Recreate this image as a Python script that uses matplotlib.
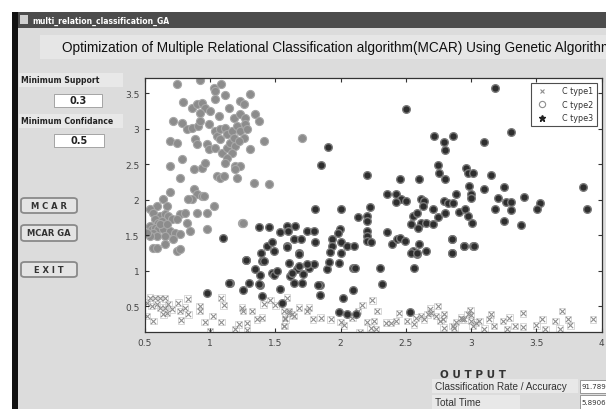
import numpy as np
import matplotlib.pyplot as plt
from matplotlib.patches import Rectangle, FancyBboxPatch
from matplotlib.lines import Line2D

# C type1 (crosses along the bottom)
t1_x = [0.539, 0.577, 0.616, 0.654, 0.513, 0.551, 0.590, 0.616, 0.654, 0.680, 0.705, 0.756,
        0.826, 0.769, 0.808, 0.833, 0.641, 0.667, 0.513, 0.564, 0.777, 0.918, 0.918, 1.018,
        0.957, 1.000, 1.085, 1.103, 1.085, 1.192, 1.218, 1.244, 1.251, 1.282, 1.282, 1.321,
        1.359, 1.398, 1.410, 1.462, 1.500, 1.564, 1.577, 1.603, 1.628, 1.589, 1.564, 1.602,
        1.640, 1.577, 1.569, 1.679, 1.756, 1.743, 1.789, 1.846, 1.840, 1.923, 2.000, 2.025,
        2.089, 2.133, 2.166, 2.243, 2.146, 2.205, 2.256, 2.282, 2.230, 2.269, 2.346, 2.384,
        2.423, 2.448, 2.512, 2.564, 2.576, 2.615, 2.640, 2.666, 2.687, 2.692, 2.730, 2.764,
        2.794, 2.789, 2.858, 2.884, 2.923, 2.948, 2.974, 2.994, 2.999, 3.012, 3.000, 3.038,
        3.064, 3.102, 3.153, 3.141, 3.174, 3.243, 3.294, 3.277, 3.333, 3.397, 3.397, 3.500,
        3.546, 3.569, 3.646, 3.679, 3.697, 3.743, 3.761, 3.935, 2.743, 2.782, 2.871, 2.928]
t1_y = [0.622, 0.620, 0.616, 0.610, 0.552, 0.505, 0.528, 0.481, 0.481, 0.528, 0.458, 0.552,
        0.608, 0.434, 0.481, 0.387, 0.387, 0.411, 0.364, 0.294, 0.303, 0.505, 0.434, 0.364,
        0.279, 0.153, 0.622, 0.514, 0.279, 0.176, 0.247, 0.481, 0.434, 0.261, 0.162, 0.434,
        0.317, 0.341, 0.528, 0.589, 0.514, 0.223, 0.341, 0.434, 0.387, 0.622, 0.434, 0.411,
        0.364, 0.317, 0.223, 0.481, 0.481, 0.434, 0.317, 0.341, 0.660, 0.317, 0.279, 0.233,
        0.341, 0.434, 0.519, 0.585, 0.139, 0.279, 0.293, 0.434, 0.200, 0.176, 0.270, 0.270,
        0.293, 0.402, 0.293, 0.247, 0.341, 0.364, 0.317, 0.387, 0.467, 0.411, 0.364, 0.293,
        0.387, 0.200, 0.223, 0.279, 0.341, 0.317, 0.387, 0.448, 0.293, 0.223, 0.374, 0.270,
        0.294, 0.186, 0.388, 0.317, 0.223, 0.294, 0.341, 0.176, 0.223, 0.402, 0.214, 0.233,
        0.317, 0.176, 0.294, 0.186, 0.434, 0.317, 0.233, 0.317, 0.505, 0.327, 0.200, 0.317]

# C type2 (grey cluster, upper left)
t2_x = [0.744, 0.923, 1.026, 1.039, 1.082, 1.115, 1.308, 1.231, 1.257, 0.795, 0.859, 0.898,
        0.936, 0.962, 0.923, 1.000, 1.039, 1.064, 1.141, 1.180, 1.231, 1.269, 1.346, 1.372,
        0.718, 0.782, 0.821, 0.859, 0.910, 0.923, 0.987, 1.039, 1.051, 1.077, 1.115, 1.128,
        1.167, 1.205, 1.231, 1.269, 1.282, 1.257, 1.308, 1.410, 0.692, 0.744, 0.885, 0.898,
        0.975, 0.987, 1.039, 1.077, 1.090, 1.128, 1.154, 1.180, 1.192, 1.218, 1.167, 1.128,
        1.115, 1.192, 1.231, 0.782, 0.692, 0.872, 0.936, 0.962, 1.051, 1.077, 1.103, 1.205,
        1.192, 1.333, 1.449, 0.769, 0.692, 0.872, 0.898, 0.936, 0.859, 0.833, 0.949, 1.026,
        0.641, 0.667, 0.590, 0.538, 0.564, 0.616, 0.654, 0.680, 0.705, 0.769, 0.808, 0.744,
        0.821, 0.577, 0.603, 0.628, 0.538, 0.551, 0.577, 0.603, 0.564, 0.641, 0.692, 0.731,
        0.590, 0.538, 0.654, 0.769, 0.846, 0.975, 0.564, 0.590, 0.654, 0.744, 0.769, 1.244,
        0.898, 0.975, 0.616, 0.667, 0.718, 0.513, 1.705, 1.250]
t2_y = [3.636, 3.688, 3.580, 3.533, 3.627, 3.472, 3.495, 3.392, 3.345, 3.378, 3.298, 3.345,
        3.369, 3.298, 3.228, 3.251, 3.425, 3.181, 3.298, 3.157, 3.204, 3.157, 3.204, 3.110,
        3.110, 3.087, 3.002, 3.017, 3.040, 3.110, 3.064, 2.970, 2.899, 2.993, 3.017, 2.923,
        2.970, 3.040, 2.970, 3.064, 2.993, 2.876, 2.711, 2.829, 2.829, 2.805, 2.852, 2.782,
        2.782, 2.711, 2.735, 2.852, 2.664, 2.735, 2.805, 2.876, 2.758, 2.829, 2.664, 2.594,
        2.524, 2.477, 2.477, 2.570, 2.477, 2.430, 2.453, 2.524, 2.336, 2.312, 2.336, 2.312,
        2.430, 2.242, 2.228, 2.312, 2.110, 2.148, 2.078, 2.054, 2.007, 2.007, 2.054, 1.913,
        2.007, 1.913, 1.913, 1.866, 1.819, 1.772, 1.796, 1.772, 1.725, 1.796, 1.819, 1.725,
        1.678, 1.725, 1.678, 1.702, 1.631, 1.585, 1.608, 1.585, 1.538, 1.585, 1.561, 1.538,
        1.491, 1.491, 1.491, 1.514, 1.561, 1.585, 1.326, 1.326, 1.373, 1.279, 1.303, 1.678,
        1.819, 1.819, 1.655, 1.655, 1.444, 1.538, 2.870, 1.680]

# C type3 (dark cluster, diagonal band)
t3_x = [2.500, 1.902, 1.846, 2.200, 2.717, 2.794, 2.858, 2.800, 2.743, 2.756, 2.961, 2.974,
        3.012, 2.456, 2.602, 2.800, 2.359, 2.423, 2.461, 2.423, 2.500, 2.615, 2.640, 2.628,
        2.794, 2.820, 2.858, 2.884, 2.999, 2.999, 2.987, 2.705, 2.743, 2.800, 2.910, 2.956,
        2.974, 3.005, 1.802, 2.000, 2.223, 2.135, 2.200, 2.200, 2.551, 2.589, 2.615, 2.653,
        2.705, 2.538, 2.594, 1.589, 1.653, 1.594, 1.538, 1.743, 1.794, 1.994, 1.979, 2.200,
        2.200, 2.200, 2.230, 2.353, 1.640, 1.697, 1.800, 1.935, 2.000, 2.397, 2.430, 2.456,
        2.492, 2.602, 2.853, 2.948, 3.012, 1.589, 1.935, 2.051, 2.102, 1.679, 1.922, 1.999,
        2.551, 2.653, 2.851, 2.584, 1.097, 1.372, 1.454, 1.277, 1.154, 0.979, 1.251, 1.295,
        1.346, 1.397, 1.385, 1.379, 1.397, 1.390, 1.436, 1.474, 1.487, 1.410, 1.474, 1.492,
        1.538, 1.551, 1.615, 1.641, 1.705, 1.713, 1.667, 1.628, 1.756, 1.795, 1.841, 1.892,
        1.987, 2.097, 2.097, 2.020, 1.987, 2.051, 2.115, 1.841, 1.602, 1.590, 1.680, 1.513,
        1.274, 1.146, 1.372, 1.679, 1.743, 1.910, 2.107, 1.828, 2.299, 2.320, 2.564, 2.538,
        2.589, 2.853, 2.533, 3.187, 3.307, 3.102, 3.154, 3.102, 3.251, 3.205, 3.269, 3.307,
        3.405, 3.184, 3.307, 3.251, 3.384, 3.525, 3.505, 3.859, 3.890, 2.854, 2.948, 3.020]
t3_y = [3.275, 2.749, 2.495, 2.350, 2.900, 2.815, 2.900, 2.702, 2.486, 2.383, 2.453, 2.383,
        2.373, 2.289, 2.289, 2.289, 2.077, 2.077, 2.007, 1.970, 1.984, 2.017, 1.984, 1.913,
        1.984, 1.960, 1.950, 2.077, 2.077, 2.030, 2.195, 1.866, 1.763, 1.810, 1.829, 1.866,
        1.772, 1.678, 1.866, 1.866, 1.899, 1.763, 1.772, 1.702, 1.772, 1.810, 1.678, 1.669,
        1.655, 1.655, 1.608, 1.631, 1.631, 1.561, 1.547, 1.561, 1.561, 1.594, 1.528, 1.561,
        1.491, 1.420, 1.406, 1.547, 1.453, 1.444, 1.406, 1.453, 1.406, 1.373, 1.444, 1.458,
        1.420, 1.373, 1.453, 1.350, 1.350, 1.350, 1.350, 1.350, 1.350, 1.246, 1.265, 1.256,
        1.279, 1.279, 1.256, 1.232, 1.458, 1.617, 1.617, 1.148, 0.824, 0.683, 0.730, 0.824,
        1.030, 1.138, 0.936, 0.796, 0.645, 1.256, 1.350, 1.406, 1.279, 1.138, 0.965, 0.936,
        0.749, 0.551, 0.927, 0.833, 0.833, 0.951, 1.030, 0.965, 1.045, 1.091, 0.796, 1.021,
        1.115, 1.045, 0.730, 0.613, 0.425, 0.397, 0.397, 0.659, 1.115, 1.340, 1.242, 1.000,
        1.148, 0.833, 0.810, 1.068, 1.092, 1.129, 1.045, 0.801, 1.045, 0.810, 1.045, 1.256,
        1.256, 1.247, 0.425, 3.580, 2.960, 2.815, 2.345, 2.148, 2.186, 2.031, 1.970, 1.970,
        2.040, 1.866, 1.857, 1.697, 1.645, 1.951, 1.866, 2.181, 1.866, 1.444, 1.350, 1.350]

legend_labels = ['C type1', 'C type2', 'C type3']
x_ticks = [0.5, 1, 1.5, 2, 2.5, 3, 3.5, 4]
y_ticks = [0.5, 1, 1.5, 2, 2.5, 3, 3.5]

W, H = 606, 410
fig = plt.figure(figsize=(W / 100, H / 100), dpi=100)
fig.patch.set_facecolor('white')


def box(x0, y0, x1, y1, fc, ec='none', lw=0):
    # rectangle given in screen pixels (top-left origin)
    r = Rectangle((x0 / W, 1 - y1 / H), (x1 - x0) / W, (y1 - y0) / H,
                  transform=fig.transFigure, facecolor=fc, edgecolor=ec, linewidth=lw,
                  zorder=-5)
    fig.add_artist(r)


def txt(x, y, s, **kw):
    fig.text(x / W, 1 - y / H, s, **kw)


def button(x0, y0, x1, y1, label):
    b = FancyBboxPatch((x0 / W, 1 - y1 / H), (x1 - x0) / W, (y1 - y0) / H,
                       boxstyle='round,pad=0,rounding_size=0.006',
                       transform=fig.transFigure, facecolor='#e4e4e4',
                       edgecolor='#8a8a8a', linewidth=1.3, zorder=-5)
    fig.add_artist(b)
    txt((x0 + x1) / 2, (y0 + y1) / 2, label, ha='center', va='center',
        fontsize=6, fontweight='bold', color='#333333')


# window chrome
box(12, 13, W, H, '#dcdcdc')
box(12, 13, W, 29, '#4c4c4c')
box(12, 13, 18, H, '#111111')
box(20, 16, 28, 25, '#cfcfcf')
txt(32, 21, 'multi_relation_classification_GA', fontsize=5.5, fontweight='bold',
    color='white', va='center')
box(40, 36, W, 60, '#e6e6e6')
txt(62, 48, 'Optimization of Multiple Relational Classification algorithm(MCAR) Using Genetic Algorithm',
    fontsize=9.8, family='Liberation Sans', va='center', color='#111111')

# left controls
box(19, 74, 123, 88, '#e8e8e8')
txt(21, 81, 'Minimum Support', fontsize=5.6, fontweight='bold', va='center', color='#222222')
box(54, 95, 102, 108, 'white', '#999999', 0.6)
txt(78, 101.5, '0.3', fontsize=7, fontweight='bold', ha='center', va='center', color='#222222')
box(19, 115, 123, 129, '#e8e8e8')
txt(21, 122, 'Minimum Confidance', fontsize=5.6, fontweight='bold', va='center', color='#222222')
box(54, 135, 104, 148, 'white', '#999999', 0.6)
txt(79, 141.5, '0.5', fontsize=7, fontweight='bold', ha='center', va='center', color='#222222')
button(21, 199, 77, 214, 'M C A R')
button(21, 226, 77, 242, 'MCAR GA')
button(21, 263, 77, 278, 'E X I T')

# output panel
txt(440, 375, 'O U T P U T', fontsize=7.5, fontweight='bold', va='center', color='#333333')
box(432, 380, 578, 394, '#e8e8e8')
txt(435, 387, 'Classification Rate / Accuracy', fontsize=7.2, family='Liberation Sans',
    va='center', color='#333333')
box(580, 381, W, 394, 'white', '#888888', 0.6)
txt(581, 387.5, '91.789', fontsize=5, va='center', color='#333333')
box(432, 396, 520, H, '#e8e8e8')
txt(435, 403, 'Total Time', fontsize=7.2, family='Liberation Sans', va='center', color='#333333')
box(580, 396, W, H, 'white', '#888888', 0.6)
txt(581, 403, '5.8906', fontsize=5, va='center', color='#333333')

# scatter axes
ax = fig.add_axes([145 / W, 1 - 333 / H, (601.5 - 145) / W, (333 - 79) / H])
ax.set_zorder(5)
ax.set_facecolor('white')
ax.scatter(t1_x, t1_y, marker='s', s=22, facecolors='none', edgecolors='#d2d2d2', linewidths=0.6)
ax.scatter(t1_x, t1_y, marker='x', s=14, color='#8f8f8f', linewidths=0.8)
ax.scatter(t2_x, t2_y, marker='o', s=34, color='#8c8c8c', edgecolors='#a8a8a8', linewidths=0.8)
ax.scatter(t3_x, t3_y, marker='o', s=30, color='#2e2e2e', edgecolors='#7a7a7a', linewidths=1.0)
ax.set_xlim(0.5, 4)
ax.set_ylim(0.138, 3.715)
ax.set_xticks(x_ticks)
ax.set_xticklabels(['0.5', '1', '1.5', '2', '2.5', '3', '3.5', '4'])
ax.set_yticks(y_ticks)
ax.set_yticklabels(['0.5', '1', '1.5', '2', '2.5', '3', '3.5'])
ax.tick_params(direction='in', length=3, width=0.8, top=True, right=True,
               labelsize=6.5, labelcolor='#444444', color='#333333', pad=4)
for sp in ax.spines.values():
    sp.set_color('#333333')
    sp.set_linewidth(0.9)

handles = [Line2D([], [], marker='x', color='#8f8f8f', ls='none', ms=3.5, mew=0.8),
           Line2D([], [], marker='o', mfc='none', mec='#8f8f8f', ls='none', ms=4.5, mew=0.8),
           Line2D([], [], marker='*', color='#222222', ls='none', ms=5)]
leg = ax.legend(handles, legend_labels, loc='upper right', fontsize=5.8, frameon=True,
                fancybox=False, edgecolor='#222222', borderaxespad=0.6,
                handletextpad=1.4, labelspacing=0.55, borderpad=0.45)
leg.get_frame().set_linewidth(0.8)
for t in leg.get_texts():
    t.set_color('#333333')

fig.savefig('out.png', dpi=100)
